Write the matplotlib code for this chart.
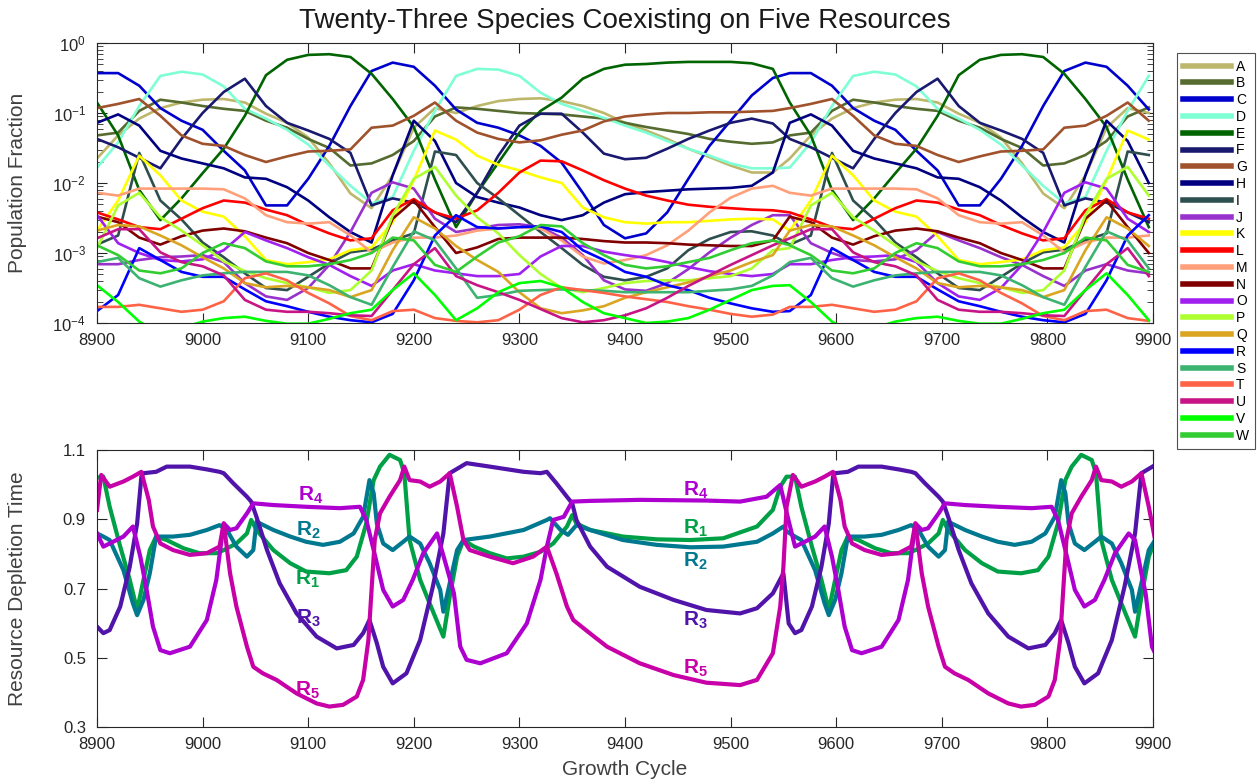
import numpy as np
import matplotlib
matplotlib.use("Agg")
from matplotlib import pyplot as plt

plt.rcParams['font.family'] = ['Liberation Sans', 'DejaVu Sans']
plt.rcParams['mathtext.fontset'] = 'custom'
plt.rcParams['mathtext.rm'] = 'Liberation Sans'
plt.rcParams['mathtext.bf'] = 'Liberation Sans:bold'

# ---- top panel: growth cycles where the species fractions were read ----
cycles = [8900, 8920, 8940, 8960, 8980, 9000, 9020, 9040, 9060, 9080, 9100,
          9120, 9140, 9160, 9180, 9200, 9220, 9240, 9260, 9280, 9300, 9320,
          9340, 9360, 9380, 9400, 9420, 9440, 9460, 9480, 9500, 9520, 9540,
          9556, 9576, 9596, 9616, 9636, 9656, 9676, 9696, 9716, 9736, 9756,
          9776, 9796, 9816, 9836, 9856, 9876, 9896]

# population fractions, stored as log10 values
pop_A = [-1.65, -1.32, -1.08, -0.93, -0.85, -0.81, -0.80, -0.85, -1.01, -1.14, -1.35, -1.72, -2.15, -2.36, -1.89, -1.21, -0.93, -1.00,
         -0.90, -0.83, -0.80, -0.79, -0.83, -0.90, -1.00, -1.14, -1.25, -1.37, -1.51, -1.63, -1.75, -1.85, -1.85,
         -1.65, -1.32, -1.08, -0.93, -0.85, -0.81, -0.80, -0.85, -1.01, -1.14, -1.35, -1.72, -2.15, -2.36, -1.89, -1.21, -0.93, -1.00]
pop_B = [-1.32, -1.28, -0.97, -0.81, -0.85, -0.90, -0.94, -0.97, -1.11, -1.21, -1.37, -1.50, -1.75, -1.72, -1.60, -1.40, -1.05, -0.92,
         -0.94, -0.97, -1.00, -1.01, -1.02, -1.05, -1.08, -1.14, -1.20, -1.25, -1.30, -1.37, -1.41, -1.44, -1.42,
         -1.32, -1.28, -0.97, -0.81, -0.85, -0.90, -0.94, -0.97, -1.11, -1.21, -1.37, -1.50, -1.75, -1.72, -1.60, -1.40, -1.05, -0.92]
pop_C = [-0.43, -0.43, -0.61, -0.93, -1.11, -1.24, -1.54, -1.82, -2.32, -2.32, -1.94, -1.47, -0.90, -0.40, -0.28, -0.34, -0.61, -0.95,
         -1.14, -1.21, -1.32, -1.47, -1.71, -2.14, -2.60, -2.79, -2.72, -2.42, -1.94, -1.47, -1.11, -0.75, -0.50,
         -0.43, -0.43, -0.61, -0.93, -1.11, -1.24, -1.54, -1.82, -2.32, -2.32, -1.94, -1.47, -0.90, -0.40, -0.28, -0.34, -0.61, -0.95]
pop_D = [-1.78, -1.42, -0.90, -0.47, -0.41, -0.45, -0.62, -0.94, -1.08, -1.24, -1.45, -1.75, -2.04, -2.29, -2.20, -1.54, -0.97, -0.47,
         -0.37, -0.38, -0.47, -0.71, -0.87, -0.97, -1.07, -1.18, -1.28, -1.40, -1.51, -1.61, -1.72, -1.79, -1.79,
         -1.78, -1.42, -0.90, -0.47, -0.41, -0.45, -0.62, -0.94, -1.08, -1.24, -1.45, -1.75, -2.04, -2.29, -2.20, -1.54, -0.97, -0.47]
pop_E = [-0.85, -1.32, -2.10, -2.53, -2.22, -1.86, -1.51, -1.04, -0.46, -0.24, -0.17, -0.16, -0.20, -0.44, -0.80, -1.20, -1.95, -2.63,
         -2.14, -1.71, -1.28, -0.97, -0.78, -0.51, -0.37, -0.31, -0.30, -0.28, -0.27, -0.27, -0.27, -0.29, -0.37,
         -0.85, -1.32, -2.10, -2.53, -2.22, -1.86, -1.51, -1.04, -0.46, -0.24, -0.17, -0.16, -0.20, -0.44, -0.80, -1.20, -1.95, -2.63]
pop_F = [-1.37, -1.49, -1.64, -1.79, -1.37, -1.00, -0.70, -0.51, -0.90, -1.14, -1.25, -1.37, -1.57, -2.32, -2.22, -2.28, -2.42, -2.56,
         -2.14, -1.61, -1.18, -1.01, -1.01, -1.28, -1.58, -1.66, -1.64, -1.51, -1.37, -1.25, -1.14, -1.08, -1.15,
         -1.37, -1.49, -1.64, -1.79, -1.37, -1.00, -0.70, -0.51, -0.90, -1.14, -1.25, -1.37, -1.57, -2.32, -2.22, -2.28, -2.42, -2.56]
pop_G = [-0.93, -0.87, -0.80, -1.04, -1.32, -1.44, -1.47, -1.60, -1.70, -1.62, -1.55, -1.54, -1.52, -1.21, -1.18, -1.04, -0.85, -1.11,
         -1.28, -1.37, -1.42, -1.39, -1.31, -1.25, -1.12, -1.05, -1.02, -1.00, -1.00, -0.99, -0.99, -0.98, -0.97,
         -0.93, -0.87, -0.80, -1.04, -1.32, -1.44, -1.47, -1.60, -1.70, -1.62, -1.55, -1.54, -1.52, -1.21, -1.18, -1.04, -0.85, -1.11]
pop_H = [-1.14, -1.02, -1.18, -1.54, -1.65, -1.72, -1.79, -1.92, -1.94, -2.06, -2.25, -2.49, -2.70, -2.85, -1.89, -1.11, -1.40, -2.00,
         -2.20, -2.28, -2.35, -2.46, -2.53, -2.46, -2.28, -2.16, -2.13, -2.11, -2.09, -2.08, -2.07, -2.04, -1.85,
         -1.14, -1.02, -1.18, -1.54, -1.65, -1.72, -1.79, -1.92, -1.94, -2.06, -2.25, -2.49, -2.70, -2.85, -1.89, -1.11, -1.40, -2.00]
pop_I = [-2.88, -2.75, -1.57, -2.25, -2.52, -2.85, -3.06, -3.29, -3.50, -3.53, -3.34, -3.15, -2.99, -2.95, -2.82, -2.72, -1.55, -1.60,
         -2.00, -2.22, -2.46, -2.70, -2.93, -3.17, -3.34, -3.39, -3.34, -3.22, -2.96, -2.80, -2.70, -2.69, -2.75,
         -2.88, -2.75, -1.57, -2.25, -2.52, -2.85, -3.06, -3.29, -3.50, -3.53, -3.34, -3.15, -2.99, -2.95, -2.82, -2.72, -1.55, -1.60]
pop_J = [-3.16, -3.16, -3.10, -3.06, -3.05, -3.03, -3.13, -3.43, -3.62, -3.67, -3.50, -3.17, -2.70, -2.14, -1.99, -2.08, -2.51, -2.70,
         -2.65, -2.60, -2.59, -2.63, -2.78, -3.03, -3.39, -3.52, -3.54, -3.43, -3.23, -2.99, -2.78, -2.60, -2.46,
         -2.46, -2.86, -3.00, -3.10, -3.12, -3.09, -2.96, -2.70, -2.82, -2.93, -3.06, -3.17, -3.33, -3.47, -3.25, -3.16, -3.25, -3.29]
pop_K = [-2.68, -2.25, -1.61, -1.89, -2.25, -2.41, -2.48, -2.76, -3.10, -3.16, -3.13, -3.09, -2.96, -2.92, -2.56, -1.96, -1.25, -1.38,
         -1.61, -1.74, -1.82, -1.92, -2.00, -2.35, -2.49, -2.56, -2.58, -2.56, -2.56, -2.54, -2.52, -2.51, -2.52,
         -2.68, -2.25, -1.61, -1.89, -2.25, -2.41, -2.48, -2.76, -3.10, -3.16, -3.13, -3.09, -2.96, -2.92, -2.56, -1.96, -1.25, -1.38]
pop_L = [-2.42, -2.52, -2.63, -2.66, -2.51, -2.36, -2.25, -2.28, -2.38, -2.46, -2.60, -2.72, -2.82, -2.79, -2.39, -2.23, -2.42, -2.51,
         -2.39, -2.14, -1.85, -1.68, -1.69, -1.82, -1.96, -2.08, -2.18, -2.25, -2.31, -2.34, -2.36, -2.38, -2.39,
         -2.42, -2.52, -2.63, -2.66, -2.51, -2.36, -2.25, -2.28, -2.38, -2.46, -2.60, -2.72, -2.82, -2.79, -2.39, -2.23, -2.42, -2.51]
pop_M = [-2.14, -2.18, -2.08, -2.08, -2.08, -2.08, -2.09, -2.22, -2.46, -2.56, -2.58, -2.56, -2.75, -2.99, -2.85, -2.78, -2.78, -2.75,
         -2.68, -2.65, -2.63, -2.65, -2.82, -3.05, -3.15, -3.10, -3.03, -2.89, -2.68, -2.42, -2.21, -2.08, -2.04,
         -2.14, -2.18, -2.08, -2.08, -2.08, -2.08, -2.09, -2.22, -2.46, -2.56, -2.58, -2.56, -2.75, -2.99, -2.85, -2.78, -2.78, -2.75]
pop_N = [-2.48, -2.56, -2.78, -2.88, -2.76, -2.68, -2.65, -2.69, -2.78, -2.86, -3.00, -3.10, -3.22, -3.22, -2.51, -2.25, -2.63, -3.00,
         -2.92, -2.80, -2.78, -2.78, -2.78, -2.80, -2.83, -2.85, -2.85, -2.86, -2.88, -2.89, -2.90, -2.90, -2.82,
         -2.48, -2.56, -2.78, -2.88, -2.76, -2.68, -2.65, -2.69, -2.78, -2.86, -3.00, -3.10, -3.22, -3.22, -2.51, -2.25, -2.63, -3.00]
pop_O = [-2.46, -2.86, -3.00, -3.10, -3.12, -3.09, -2.96, -2.70, -2.82, -2.93, -3.06, -3.17, -3.33, -3.47, -3.25, -3.16, -3.25, -3.29,
         -3.33, -3.33, -3.30, -3.05, -2.90, -2.90, -2.98, -3.03, -3.07, -3.13, -3.20, -3.26, -3.30, -3.33, -3.30,
         -3.16, -3.16, -3.10, -3.06, -3.05, -3.03, -3.13, -3.43, -3.62, -3.67, -3.50, -3.17, -2.70, -2.14, -1.99, -2.08, -2.51, -2.70]
pop_P = [-2.93, -2.32, -2.14, -2.49, -2.68, -2.89, -3.12, -3.26, -3.36, -3.43, -3.49, -3.57, -3.53, -3.25, -2.46, -1.94, -1.77, -2.18,
         -2.49, -2.72, -3.03, -3.30, -3.50, -3.56, -3.50, -3.43, -3.40, -3.39, -3.39, -3.36, -3.33, -3.22, -2.96,
         -2.93, -2.32, -2.14, -2.49, -2.68, -2.89, -3.12, -3.26, -3.36, -3.43, -3.49, -3.57, -3.53, -3.25, -2.46, -1.94, -1.77, -2.18]
pop_Q = [-2.68, -2.60, -2.62, -2.75, -2.89, -3.06, -3.22, -3.43, -3.49, -3.47, -3.49, -3.53, -3.63, -3.53, -2.96, -2.49, -2.65, -2.90,
         -3.10, -3.27, -3.56, -3.79, -3.86, -3.82, -3.76, -3.64, -3.56, -3.49, -3.42, -3.33, -3.25, -3.13, -3.03,
         -2.68, -2.60, -2.62, -2.75, -2.89, -3.06, -3.22, -3.43, -3.49, -3.47, -3.49, -3.53, -3.63, -3.53, -2.96, -2.49, -2.65, -2.90]
pop_R = [-3.83, -3.60, -2.93, -3.10, -3.27, -3.34, -3.34, -3.52, -3.69, -3.76, -3.84, -3.91, -3.96, -3.99, -3.87, -3.39, -2.75, -2.46,
         -2.63, -2.65, -2.63, -2.62, -2.70, -2.96, -3.10, -3.27, -3.34, -3.46, -3.53, -3.64, -3.72, -3.79, -3.84,
         -3.83, -3.60, -2.93, -3.10, -3.27, -3.34, -3.34, -3.52, -3.69, -3.76, -3.84, -3.91, -3.96, -3.99, -3.87, -3.39, -2.75, -2.46]
pop_S = [-3.13, -3.07, -3.36, -3.48, -3.39, -3.32, -3.29, -3.27, -3.27, -3.27, -3.32, -3.46, -3.63, -3.74, -3.20, -2.69, -2.82, -3.22,
         -3.64, -3.60, -3.54, -3.53, -3.52, -3.53, -3.54, -3.56, -3.56, -3.56, -3.56, -3.54, -3.52, -3.47, -3.32,
         -3.13, -3.07, -3.36, -3.48, -3.39, -3.32, -3.29, -3.27, -3.27, -3.27, -3.32, -3.46, -3.63, -3.74, -3.20, -2.69, -2.82, -3.22]
pop_T = [-3.77, -3.77, -3.74, -3.79, -3.84, -3.81, -3.69, -3.36, -3.29, -3.39, -3.57, -3.72, -3.90, -3.96, -3.83, -3.81, -3.93, -3.97,
         -3.99, -3.96, -3.81, -3.60, -3.49, -3.53, -3.57, -3.62, -3.66, -3.70, -3.76, -3.81, -3.87, -3.91, -3.88,
         -3.77, -3.77, -3.74, -3.79, -3.84, -3.81, -3.69, -3.36, -3.29, -3.39, -3.57, -3.72, -3.90, -3.96, -3.83, -3.81, -3.93, -3.97]
pop_U = [-2.79, -2.66, -2.66, -2.99, -3.13, -3.19, -3.32, -3.67, -3.81, -3.84, -3.84, -3.86, -3.89, -3.90, -3.53, -3.16, -2.93, -3.33,
         -3.46, -3.56, -3.67, -3.80, -3.93, -3.99, -3.96, -3.89, -3.79, -3.64, -3.47, -3.32, -3.17, -3.03, -2.89,
         -2.79, -2.66, -2.66, -2.99, -3.13, -3.19, -3.32, -3.67, -3.81, -3.84, -3.84, -3.86, -3.89, -3.90, -3.53, -3.16, -2.93, -3.33]
pop_V = [-3.46, -3.70, -3.98, -4.14, -4.07, -3.98, -3.93, -3.91, -3.97, -4.01, -4.01, -3.94, -3.86, -3.81, -3.53, -3.29, -3.60, -3.96,
         -3.79, -3.56, -3.43, -3.40, -3.49, -3.70, -3.86, -3.93, -4.00, -3.98, -3.93, -3.81, -3.67, -3.53, -3.47,
         -3.46, -3.70, -3.98, -4.14, -4.07, -3.98, -3.93, -3.91, -3.97, -4.01, -4.01, -3.94, -3.86, -3.81, -3.53, -3.29, -3.60, -3.96]
pop_W = [-2.89, -3.03, -3.25, -3.29, -3.22, -3.00, -2.86, -2.93, -3.12, -3.19, -3.19, -3.16, -3.10, -3.00, -2.78, -2.82, -3.17, -3.27,
         -3.05, -2.85, -2.76, -2.60, -2.62, -2.86, -3.03, -3.17, -3.22, -3.19, -3.13, -3.07, -2.96, -2.86, -2.82,
         -2.89, -3.03, -3.25, -3.29, -3.22, -3.00, -2.86, -2.93, -3.12, -3.19, -3.19, -3.16, -3.10, -3.00, -2.78, -2.82, -3.17, -3.27]

species = ['A', 'B', 'C', 'D', 'E', 'F', 'G', 'H', 'I', 'J', 'K', 'L',
           'M', 'N', 'O', 'P', 'Q', 'R', 'S', 'T', 'U', 'V', 'W']
species_colors = ['#BDB76B', '#556B2F', '#0000CD', '#7FFFD4', '#006400', '#191970',
                  '#A0522D', '#000080', '#2F4F4F', '#9932CC', '#FFFF00', '#FF0000',
                  '#FFA07A', '#800000', '#A020F0', '#ADFF2F', '#DAA520', '#0000FF',
                  '#3CB371', '#FF6347', '#C71585', '#00FF00', '#32CD32']
pop_series = [pop_A, pop_B, pop_C, pop_D, pop_E, pop_F, pop_G, pop_H, pop_I, pop_J,
              pop_K, pop_L, pop_M, pop_N, pop_O, pop_P, pop_Q, pop_R, pop_S, pop_T,
              pop_U, pop_V, pop_W]

# ---- bottom panel: resource depletion times ----
r1_cycle = [8900, 8906, 8912, 8922, 8931, 8938, 8944, 8950, 8956, 8966, 8982, 8997, 9013, 9020, 9032, 9042, 9046, 9051,
            9067, 9083, 9098, 9120, 9136, 9146, 9155, 9162, 9168, 9177, 9187, 9191, 9196, 9206, 9215, 9228, 9234,
            9241, 9247, 9257, 9272, 9288, 9304, 9320, 9332, 9345, 9350, 9354, 9367, 9398, 9430, 9462, 9493, 9525,
            9540, 9547, 9553, 9561, 9567, 9577, 9586, 9593, 9599, 9605, 9611, 9621, 9637, 9652, 9668, 9675, 9687,
            9697, 9701, 9706, 9722, 9738, 9753, 9775, 9791, 9801, 9810, 9817, 9823, 9832, 9842, 9846, 9851, 9861,
            9870, 9883, 9889, 9896, 9902]
r1_time = [1.020, 1.023, 0.936, 0.821, 0.725, 0.638, 0.725, 0.811, 0.850, 0.840, 0.816, 0.802, 0.802, 0.811, 0.830,
           0.859, 0.898, 0.869, 0.811, 0.773, 0.749, 0.744, 0.753, 0.792, 0.888, 1.013, 1.052, 1.086, 1.071, 1.033,
           0.840, 0.725, 0.657, 0.561, 0.676, 0.792, 0.840, 0.821, 0.802, 0.787, 0.792, 0.806, 0.830, 0.879, 0.912,
           0.888, 0.869, 0.850, 0.842, 0.840, 0.845, 0.879, 0.927, 0.994, 1.023, 1.023, 0.936, 0.821, 0.725, 0.638,
           0.725, 0.811, 0.850, 0.840, 0.816, 0.802, 0.802, 0.811, 0.830, 0.859, 0.898, 0.869, 0.811, 0.773, 0.749,
           0.744, 0.753, 0.792, 0.888, 1.013, 1.052, 1.086, 1.071, 1.033, 0.840, 0.725, 0.657, 0.561, 0.676, 0.792,
           0.840]

r2_cycle = [8900, 8906, 8912, 8925, 8934, 8938, 8944, 8950, 8956, 8972, 8988, 9004, 9016, 9023, 9032, 9042, 9048, 9051,
            9067, 9083, 9098, 9114, 9130, 9143, 9152, 9158, 9162, 9165, 9171, 9180, 9190, 9196, 9206, 9215, 9225,
            9228, 9234, 9241, 9247, 9272, 9304, 9326, 9329, 9339, 9346, 9354, 9367, 9398, 9430, 9462, 9493, 9525,
            9540, 9550, 9553, 9561, 9567, 9580, 9589, 9593, 9599, 9605, 9611, 9627, 9643, 9659, 9671, 9678, 9687,
            9697, 9703, 9706, 9722, 9738, 9753, 9769, 9785, 9798, 9807, 9813, 9817, 9820, 9826, 9835, 9845, 9851,
            9861, 9870, 9880, 9883, 9889, 9896, 9902]
r2_time = [0.859, 0.850, 0.840, 0.753, 0.657, 0.623, 0.667, 0.744, 0.850, 0.850, 0.855, 0.869, 0.883, 0.869, 0.821,
           0.792, 0.811, 0.893, 0.869, 0.850, 0.835, 0.826, 0.835, 0.859, 0.907, 1.013, 0.975, 0.888, 0.830, 0.811,
           0.835, 0.850, 0.830, 0.773, 0.696, 0.633, 0.715, 0.811, 0.840, 0.850, 0.869, 0.898, 0.903, 0.869, 0.855,
           0.883, 0.869, 0.840, 0.826, 0.819, 0.821, 0.835, 0.859, 0.879, 0.865, 0.850, 0.840, 0.753, 0.657, 0.623,
           0.667, 0.744, 0.850, 0.850, 0.855, 0.869, 0.883, 0.869, 0.821, 0.792, 0.811, 0.893, 0.869, 0.850, 0.835,
           0.826, 0.835, 0.859, 0.907, 1.013, 0.975, 0.888, 0.830, 0.811, 0.835, 0.850, 0.830, 0.773, 0.696, 0.633,
           0.715, 0.811, 0.840]

r3_cycle = [8900, 8906, 8912, 8922, 8931, 8938, 8942, 8944, 8956, 8966, 8988, 9004, 9016, 9020, 9029, 9042, 9046, 9051,
            9061, 9073, 9089, 9108, 9127, 9143, 9152, 9158, 9165, 9171, 9180, 9193, 9206, 9218, 9228, 9234, 9250,
            9272, 9304, 9320, 9326, 9335, 9345, 9350, 9354, 9367, 9383, 9414, 9446, 9477, 9509, 9525, 9540, 9550,
            9555, 9561, 9567, 9577, 9586, 9593, 9597, 9599, 9611, 9621, 9643, 9659, 9671, 9675, 9684, 9697, 9701,
            9706, 9716, 9728, 9744, 9763, 9782, 9798, 9807, 9813, 9820, 9826, 9835, 9848, 9861, 9873, 9883, 9889,
            9905]
r3_time = [0.590, 0.571, 0.580, 0.648, 0.763, 0.888, 1.023, 1.033, 1.037, 1.052, 1.052, 1.044, 1.037, 1.033, 1.004,
           0.965, 0.951, 0.907, 0.811, 0.715, 0.628, 0.561, 0.527, 0.537, 0.571, 0.609, 0.542, 0.474, 0.426, 0.455,
           0.551, 0.705, 0.859, 1.033, 1.062, 1.052, 1.037, 1.033, 1.037, 1.004, 0.965, 0.946, 0.898, 0.821, 0.763,
           0.705, 0.667, 0.638, 0.628, 0.643, 0.686, 0.744, 0.599, 0.571, 0.580, 0.648, 0.763, 0.888, 1.023, 1.033,
           1.037, 1.052, 1.052, 1.044, 1.037, 1.033, 1.004, 0.965, 0.951, 0.907, 0.811, 0.715, 0.628, 0.561, 0.527,
           0.537, 0.571, 0.609, 0.542, 0.474, 0.426, 0.455, 0.551, 0.705, 0.859, 1.033, 1.062]

r4_cycle = [8900, 8906, 8912, 8925, 8934, 8941, 8947, 8953, 8960, 8969, 8988, 9004, 9013, 9020, 9026, 9032, 9042, 9048,
            9067, 9098, 9130, 9149, 9155, 9162, 9171, 9180, 9190, 9199, 9209, 9222, 9231, 9238, 9244, 9250, 9263,
            9288, 9307, 9320, 9326, 9332, 9342, 9350, 9367, 9414, 9477, 9509, 9534, 9547, 9553, 9561, 9567, 9580,
            9589, 9596, 9602, 9608, 9615, 9624, 9643, 9659, 9668, 9675, 9681, 9687, 9697, 9703, 9722, 9753, 9785,
            9804, 9810, 9817, 9826, 9835, 9845, 9854, 9864, 9877, 9883, 9889, 9893, 9899, 9905]
r4_time = [0.859, 0.821, 0.830, 0.850, 0.879, 0.792, 0.696, 0.590, 0.522, 0.513, 0.532, 0.609, 0.725, 0.888, 0.869,
           0.874, 0.917, 0.946, 0.941, 0.936, 0.932, 0.936, 0.898, 0.811, 0.696, 0.648, 0.667, 0.725, 0.802, 0.859,
           0.763, 0.686, 0.532, 0.494, 0.484, 0.513, 0.599, 0.725, 0.821, 0.898, 0.907, 0.951, 0.953, 0.956, 0.954,
           0.951, 0.965, 0.999, 0.920, 0.821, 0.830, 0.850, 0.879, 0.792, 0.696, 0.590, 0.522, 0.513, 0.532, 0.609,
           0.725, 0.888, 0.869, 0.874, 0.917, 0.946, 0.941, 0.936, 0.932, 0.936, 0.898, 0.811, 0.696, 0.648, 0.667,
           0.725, 0.802, 0.859, 0.840, 0.744, 0.686, 0.532, 0.494]

r5_cycle = [8900, 8904, 8912, 8925, 8934, 8942, 8949, 8953, 8960, 8972, 8988, 9004, 9016, 9020, 9026, 9032, 9042, 9048,
            9057, 9070, 9089, 9108, 9120, 9133, 9146, 9152, 9157, 9160, 9163, 9168, 9177, 9187, 9191, 9196, 9206,
            9215, 9225, 9234, 9241, 9247, 9253, 9272, 9294, 9313, 9326, 9335, 9345, 9351, 9367, 9383, 9414, 9446,
            9477, 9509, 9525, 9540, 9547, 9550, 9553, 9559, 9567, 9580, 9589, 9597, 9604, 9608, 9615, 9627, 9643,
            9659, 9671, 9675, 9681, 9687, 9697, 9703, 9712, 9725, 9744, 9763, 9775, 9788, 9801, 9807, 9812, 9815,
            9818, 9823, 9832, 9842, 9846, 9851, 9861, 9870, 9880, 9889, 9896, 9902]
r5_time = [0.927, 1.028, 0.994, 1.009, 1.023, 1.037, 0.956, 0.879, 0.830, 0.811, 0.797, 0.802, 0.821, 0.888, 0.744,
           0.648, 0.532, 0.474, 0.455, 0.436, 0.397, 0.368, 0.359, 0.364, 0.388, 0.436, 0.551, 0.696, 0.840, 0.917,
           0.965, 1.013, 1.052, 1.013, 1.009, 0.994, 1.009, 1.033, 0.936, 0.840, 0.811, 0.792, 0.773, 0.792, 0.821,
           0.744, 0.648, 0.609, 0.570, 0.532, 0.484, 0.450, 0.428, 0.421, 0.436, 0.513, 0.648, 0.763, 0.936, 1.028,
           0.994, 1.009, 1.023, 1.037, 0.956, 0.879, 0.830, 0.811, 0.797, 0.802, 0.821, 0.888, 0.744, 0.648, 0.532,
           0.474, 0.455, 0.436, 0.397, 0.368, 0.359, 0.364, 0.388, 0.436, 0.551, 0.696, 0.840, 0.917, 0.965, 1.013,
           1.052, 1.013, 1.009, 0.994, 1.009, 1.033, 0.936, 0.840]

res_names = ['1', '2', '3', '4', '5']
res_colors = ['#00A046', '#00788F', '#5014AA', '#AD00D0', '#C800A8']

# label anchors for the resource curves (cycle, depletion time)
label_spots = [('4', 9102, 0.970), ('2', 9100, 0.869), ('1', 9099, 0.725), ('3', 9100, 0.615), ('5', 9099, 0.407),
               ('4', 9467, 0.984), ('1', 9467, 0.875), ('2', 9467, 0.777), ('3', 9467, 0.609), ('5', 9467, 0.470)]

AX_COLOR = '#262626'
LABEL_COLOR = '#404040'


def style_axes(ax):
    for sp in ax.spines.values():
        sp.set_color(AX_COLOR)
        sp.set_linewidth(0.8)
    ax.tick_params(which='both', direction='in', top=True, right=True,
                   colors=AX_COLOR, labelsize=12)
    ax.tick_params(which='major', length=7)
    ax.tick_params(which='minor', length=4)
    ax.tick_params(axis='x', pad=7)
    ax.tick_params(axis='y', pad=8)


fig = plt.figure(figsize=(12.57, 7.84), dpi=100)

# top panel
ax1 = fig.add_axes([0.07717, 0.58801, 0.84010, 0.35714])
for name, vals, col in zip(species, pop_series, species_colors):
    ax1.plot(cycles, 10 ** np.array(vals), color=col, lw=1.9, label=name,
             solid_joinstyle='round')
ax1.set_yscale('log')
ax1.set_ylim(1e-4, 1)
ax1.set_xlim(8900, 9900)
ax1.set_xticks(range(8900, 9901, 100))
style_axes(ax1)
ax1.set_ylabel('Population Fraction', fontsize=15, color=LABEL_COLOR)
ax1.yaxis.set_label_coords(-0.066, 0.5)
ax1.set_title('Twenty-Three Species Coexisting on Five Resources', fontsize=20,
              color='#1a1a1a', pad=11)

leg = ax1.legend(loc='upper left', bbox_to_anchor=(0.9364, 0.932),
                 bbox_transform=fig.transFigure, fontsize=10, frameon=True,
                 fancybox=False, edgecolor=AX_COLOR, handlelength=3.4,
                 labelspacing=0.2, borderpad=0.45, handletextpad=0.4,
                 borderaxespad=0)
leg.get_frame().set_linewidth(0.8)
for h in leg.get_lines():
    h.set_linewidth(4)

# bottom panel
ax2 = fig.add_axes([0.07717, 0.07270, 0.84010, 0.35332])
res_data = [(r1_cycle, r1_time), (r2_cycle, r2_time), (r3_cycle, r3_time),
            (r4_cycle, r4_time), (r5_cycle, r5_time)]
for (xs, ys), col in zip(res_data, res_colors):
    ax2.plot(xs, ys, color=col, lw=3, solid_joinstyle='round')
ax2.set_xlim(8900, 9900)
ax2.set_ylim(0.3, 1.1)
ax2.set_xticks(range(8900, 9901, 100))
ax2.set_yticks([0.3, 0.5, 0.7, 0.9, 1.1])
ax2.set_yticklabels(['0.3', '0.5', '0.7', '0.9', '1.1'])
style_axes(ax2)
ax2.set_ylabel('Resource Depletion Time', fontsize=15, color=LABEL_COLOR)
ax2.yaxis.set_label_coords(-0.066, 0.5)
ax2.set_xlabel('Growth Cycle', fontsize=15, color=LABEL_COLOR, labelpad=6)

for num, cx, cy in label_spots:
    col = res_colors[res_names.index(num)]
    ax2.text(cx, cy, r'$\mathbf{R_%s}$' % num, color=col, fontsize=15,
             ha='center', va='center')

fig.savefig('out.png', dpi=100)
